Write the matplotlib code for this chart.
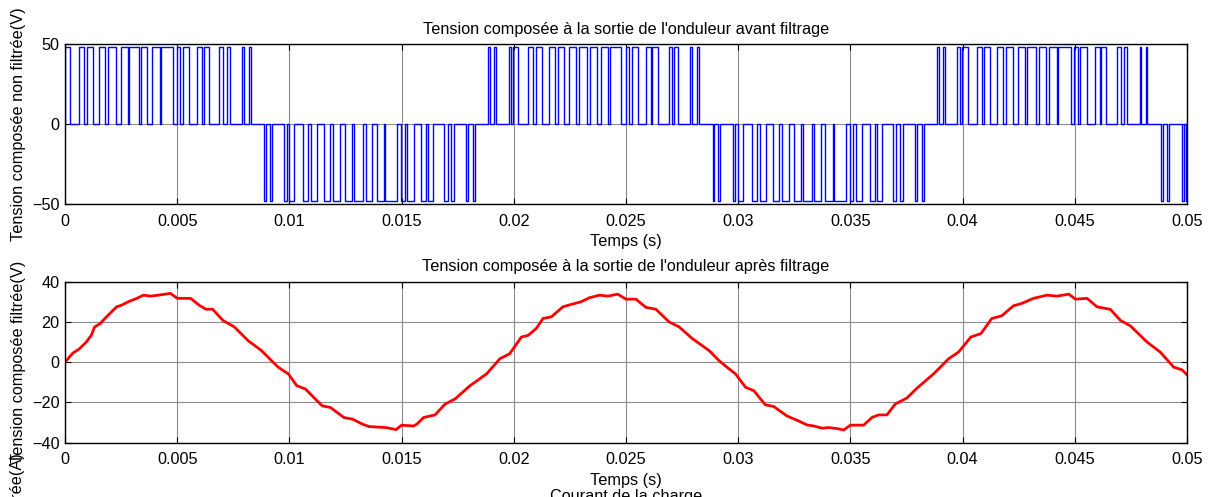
import numpy as np
import matplotlib
matplotlib.use("Agg")
import matplotlib.pyplot as plt

plt.rcParams['font.family'] = ['Liberation Sans', 'DejaVu Sans']

# Inverter line voltage before filtering: pulses (ms) for each half-cycle
udc = 48.0
pos_a_start = [0.00, 0.62, 0.97, 1.53, 1.93, 2.48, 2.87, 3.40, 3.89, 4.27, 4.98, 5.24, 5.87, 6.19, 6.88, 7.20, 7.89, 8.19]
pos_a_end   = [0.22, 0.85, 1.23, 1.80, 2.27, 2.81, 3.28, 3.67, 4.23, 4.80, 5.13, 5.54, 6.10, 6.40, 7.05, 7.35, 7.96, 8.27]
neg_c_start = [8.87, 9.13, 9.78, 9.98, 10.62, 10.97, 11.53, 11.93, 12.48, 12.87, 13.40, 13.89, 14.27, 14.98, 15.24, 15.87, 16.19, 16.88, 17.20, 17.89, 18.19]
neg_c_end   = [8.94, 9.22, 9.88, 10.22, 10.85, 11.23, 11.80, 12.27, 12.81, 13.28, 13.67, 14.23, 14.80, 15.13, 15.54, 16.10, 16.40, 17.05, 17.35, 17.96, 18.27]
pos_b_start = [18.86, 19.13, 19.77, 19.97, 20.64, 20.98, 21.56, 21.95, 22.46, 22.90, 23.38, 23.87, 24.28, 24.98, 25.27, 25.89, 26.18, 26.90, 27.12, 27.87, 28.18]
pos_b_end   = [18.94, 19.20, 19.87, 20.21, 20.86, 21.24, 21.83, 22.24, 22.78, 23.26, 23.70, 24.21, 24.80, 25.12, 25.52, 26.12, 26.41, 27.03, 27.33, 27.96, 28.24]
neg_d_start = [28.86, 29.12, 29.77, 29.97, 30.63, 30.98, 31.54, 31.94, 32.47, 32.88, 33.40, 33.88, 34.27, 34.98, 35.25, 35.88, 36.19, 36.89, 37.20, 37.89, 38.19]
neg_d_end   = [28.94, 29.21, 29.87, 30.21, 30.85, 31.23, 31.81, 32.26, 32.80, 33.27, 33.68, 34.22, 34.81, 35.13, 35.53, 36.10, 36.40, 37.04, 37.35, 37.96, 38.26]
pos_e_start = [38.86, 39.13, 39.77, 39.98, 40.63, 40.97, 41.55, 41.94, 42.46, 42.89, 43.40, 43.87, 44.26, 44.98, 45.25, 45.88, 46.18, 46.89, 47.18, 47.89, 48.18]
pos_e_end   = [38.94, 39.21, 39.88, 40.24, 40.86, 41.24, 41.81, 42.24, 42.80, 43.28, 43.70, 44.21, 44.82, 45.13, 45.53, 46.11, 46.40, 47.04, 47.34, 47.96, 48.24]
neg_f_start = [48.86, 49.13, 49.77, 49.97]
neg_f_end   = [48.94, 49.21, 49.87, 50.00]

# Filtered line voltage samples (time in ms, volts)
filt_t = [0.0, 0.35, 0.65, 0.95, 1.17, 1.32, 1.55, 1.85, 2.30, 2.52, 2.82, 3.20, 3.50, 3.80, 4.17, 4.70,
          5.00, 5.60, 5.98, 6.28, 6.58, 7.03, 7.55, 8.15, 8.75, 9.20, 9.50, 9.95, 10.33, 10.71, 11.46, 11.83,
          12.43, 12.81, 13.26, 13.56, 14.31, 14.75, 15.00, 15.53, 15.68, 15.98, 16.49, 16.94, 17.38, 18.05,
          18.79, 19.38, 19.82, 20.34, 20.64, 21.00, 21.30, 21.67, 22.19, 22.56, 23.00, 23.37, 23.82, 24.19,
          24.63, 25.00, 25.44, 25.89, 26.33, 26.92, 27.37, 27.96, 28.70, 29.14, 29.59, 29.88, 30.33, 30.70,
          31.21, 31.58, 32.17, 32.69, 33.07, 33.37, 33.74, 34.03, 34.41, 34.70, 35.00, 35.59, 35.96, 36.26,
          36.63, 37.00, 37.52, 37.96, 38.71, 39.38, 39.82, 40.37, 40.82, 41.30, 41.74, 42.27, 42.64, 43.16,
          43.76, 44.21, 44.73, 45.03, 45.55, 45.99, 46.59, 47.03, 47.48, 48.22, 48.81, 49.41, 49.78, 50.00]
filt_v = [0.0, 4.5, 6.7, 10.0, 13.3, 17.5, 19.0, 22.5, 27.5, 28.3, 30.0, 31.7, 33.3, 32.8, 33.3, 34.2,
          31.7, 31.7, 28.3, 26.3, 26.3, 20.8, 17.5, 10.8, 5.8, 0.8, -2.5, -5.8, -11.7, -13.3, -21.7, -22.5,
          -27.5, -28.3, -30.8, -32.0, -32.5, -33.5, -31.3, -31.7, -30.8, -27.5, -26.2, -20.8, -18.3, -11.7,
          -5.8, 1.7, 4.2, 12.5, 13.3, 16.7, 21.7, 22.5, 27.5, 28.7, 30.0, 32.0, 33.3, 32.8,
          33.8, 31.3, 31.3, 27.2, 26.3, 20.0, 17.5, 11.7, 5.8, 0.8, -3.3, -5.8, -12.5, -14.2,
          -21.2, -22.0, -26.7, -29.2, -31.2, -31.7, -32.8, -32.5, -33.0, -33.7, -31.3, -31.3, -27.5, -26.2,
          -26.2, -20.8, -17.8, -13.0, -5.8, 1.7, 5.0, 12.5, 14.2, 21.7, 23.0, 28.0, 29.2, 31.7,
          33.3, 32.8, 33.8, 31.3, 31.7, 27.5, 26.2, 20.8, 18.0, 10.0, 5.0, -2.5, -3.8, -6.3]

xticks = [0, 0.005, 0.01, 0.015, 0.02, 0.025, 0.03, 0.035, 0.04, 0.045, 0.05]
xtick_labels = ['0', '0.005', '0.01', '0.015', '0.02', '0.025', '0.03', '0.035', '0.04', '0.045', '0.05']


def pulse_train(groups):
    t = [0.0]
    v = [0.0]
    for starts, ends, level in groups:
        for s, e in zip(starts, ends):
            t += [s, s, e, e]
            v += [0.0, level, level, 0.0]
    t.append(50.0)
    v.append(0.0)
    return np.array(t) / 1000.0, np.array(v)


groups = [
    (pos_a_start, pos_a_end, udc),
    (neg_c_start, neg_c_end, -udc),
    (pos_b_start, pos_b_end, udc),
    (neg_d_start, neg_d_end, -udc),
    (pos_e_start, pos_e_end, udc),
    (neg_f_start, neg_f_end, -udc),
]
pwm_t, pwm_v = pulse_train(groups)

W, H = 1208, 497
fig = plt.figure(figsize=(W / 100, H / 100), dpi=100)
ax1 = fig.add_axes([0.0538, 0.5895, 0.9288, 0.322])
ax2 = fig.add_axes([0.0538, 0.1093, 0.9288, 0.324])

fs = 11.7


def style(ax, yticks):
    ax.set_xlim(0, 0.05)
    ax.set_xticks(xticks)
    ax.set_xticklabels(xtick_labels)
    ax.set_yticks(yticks)
    ax.grid(True, color='#8c8c8c', linewidth=0.8)
    ax.set_axisbelow(True)
    ax.tick_params(direction='in', top=True, right=True, length=4, width=0.8,
                   labelsize=fs, colors='black')
    ax.tick_params(axis='x', pad=7)
    ax.tick_params(axis='y', pad=4)
    for sp in ax.spines.values():
        sp.set_linewidth(1.0)
        sp.set_color('black')


ax1.plot(pwm_t, pwm_v, color='#0000ff', linewidth=1.0)
style(ax1, [-50, 0, 50])
ax1.set_ylim(-50, 50)
ax1.set_title("Tension composée à la sortie de l'onduleur avant filtrage", fontsize=fs, pad=7.5)
ax1.set_xlabel('Temps (s)', fontsize=fs, labelpad=4)
ax1.set_ylabel('Tension composée non filtrée(V)', fontsize=fs, labelpad=4)

ax2.plot(np.array(filt_t) / 1000.0, filt_v, color='#ff0000', linewidth=2.0)
style(ax2, [-40, -20, 0, 20, 40])
ax2.set_ylim(-40, 40)
ax2.set_title("Tension composée à la sortie de l'onduleur après filtrage", fontsize=fs, pad=7.5)
ax2.set_xlabel('Temps (s)', fontsize=fs, labelpad=4)
ax2.set_ylabel('Tension composée filtrée(V)', fontsize=fs, labelpad=4)

# Labels of the next panel, cut off by the lower edge of the figure
fig.text(18 / W, 1 - 453 / H, 'Courant non filtrée(A)', rotation=90,
         ha='center', va='top', fontsize=fs)
fig.text(626 / W, 1 - 489 / H, 'Courant de la charge', ha='center', va='top',
         fontsize=fs)

fig.savefig('out.png', dpi=100)
